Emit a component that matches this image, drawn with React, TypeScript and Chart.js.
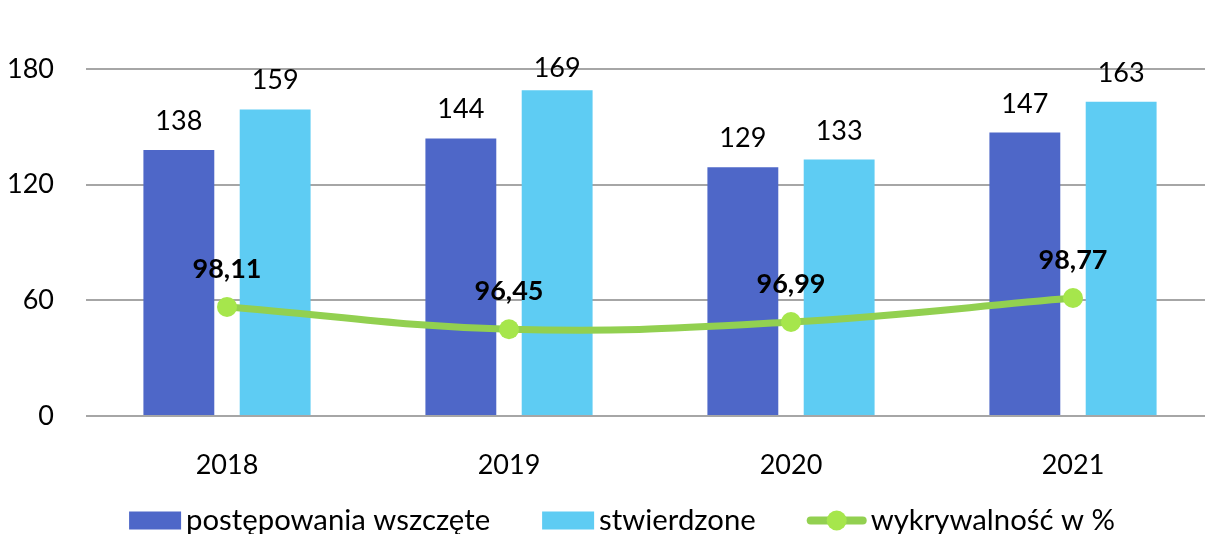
import React, { useEffect, useRef } from "react";
import { Chart, registerables } from "chart.js";

Chart.register(...registerables);

const years = ["2018", "2019", "2020", "2021"];
const postepowania = [138, 144, 129, 147];
const stwierdzone = [159, 169, 133, 163];
const wykrywalnosc = [98.11, 96.45, 96.99, 98.77];
const yTicks = [0, 60, 120, 180];
const seriesNames = ["postępowania wszczęte", "stwierdzone", "wykrywalność w %"];

const FONT = "Lato, 'Open Sans', sans-serif";
const FS = 27;
const LEGEND_FS = 29.3;
const DARK = "#4E67C8";
const LIGHT = "#5ECCF3";
const LINE = "#92D050";
const POINT = "#A6E64C";
const GRID = "#A6A6A6";

const valueLabels = {
  id: "valueLabels",
  afterDatasetsDraw(chart: any) {
    const ctx = chart.ctx;
    ctx.save();
    ctx.fillStyle = "#000";
    ctx.textAlign = "center";
    ctx.textBaseline = "alphabetic";
    chart.data.datasets.forEach((ds: any, di: number) => {
      const meta = chart.getDatasetMeta(di);
      meta.data.forEach((el: any, i: number) => {
        const v = ds.data[i];
        if (ds.type === "line") {
          ctx.font = `bold ${FS}px ${FONT}`;
          ctx.fillText(v.toFixed(2).replace(".", ","), el.x, el.y - 29);
        } else {
          ctx.font = `${FS}px ${FONT}`;
          const y = Math.max(el.y - 20, chart.chartArea.top + 8);
          ctx.fillText(String(v), el.x, y);
        }
      });
    });
    ctx.restore();
  },
};

const customLegend = {
  id: "customLegend",
  afterDraw(chart: any) {
    const ctx = chart.ctx;
    ctx.save();
    ctx.font = `${LEGEND_FS}px ${FONT}`;
    ctx.textBaseline = "alphabetic";
    ctx.textAlign = "left";
    const cy = 520.5;
    const baseline = 529.5;
    const symW = [52, 52, 58];
    const gapText = 5;
    const gapItem = 52;
    const widths = seriesNames.map((n, i) => symW[i] + gapText + ctx.measureText(n).width);
    const total = widths.reduce((a, b) => a + b, 0) + gapItem * (seriesNames.length - 1);
    let x = 622 - total / 2;
    seriesNames.forEach((name, i) => {
      if (i < 2) {
        ctx.fillStyle = i === 0 ? DARK : LIGHT;
        ctx.fillRect(x, cy - 9, symW[i], 18);
      } else {
        ctx.strokeStyle = LINE;
        ctx.lineWidth = 8;
        ctx.lineCap = "round";
        ctx.beginPath();
        ctx.moveTo(x + 3, cy);
        ctx.lineTo(x + symW[i] - 3, cy);
        ctx.stroke();
        ctx.fillStyle = POINT;
        ctx.beginPath();
        ctx.arc(x + symW[i] / 2, cy, 10, 0, Math.PI * 2);
        ctx.fill();
      }
      ctx.fillStyle = "#000";
      ctx.fillText(name, x + symW[i] + gapText, baseline);
      x += widths[i] + gapItem;
    });
    ctx.restore();
  },
};

export default function App() {
  const ref = useRef<HTMLCanvasElement | null>(null);
  useEffect(() => {
    document.body.style.margin = "0";
    document.body.style.overflow = "hidden";
    const chart = new Chart(ref.current as HTMLCanvasElement, {
      type: "bar",
      data: {
        labels: years,
        datasets: [
          {
            type: "line",
            label: seriesNames[2],
            data: wykrywalnosc,
            yAxisID: "y1",
            borderColor: LINE,
            borderWidth: 7,
            tension: 0.4,
            pointRadius: 10,
            pointBackgroundColor: POINT,
            pointBorderColor: POINT,
            pointBorderWidth: 0,
            order: 0,
          } as any,
          {
            type: "bar",
            label: seriesNames[0],
            data: postepowania,
            backgroundColor: DARK,
            categoryPercentage: 0.683,
            barPercentage: 0.736,
            order: 1,
          },
          {
            type: "bar",
            label: seriesNames[1],
            data: stwierdzone,
            backgroundColor: LIGHT,
            categoryPercentage: 0.683,
            barPercentage: 0.736,
            order: 1,
          },
        ],
      },
      options: {
        animation: false,
        responsive: true,
        maintainAspectRatio: false,
        layout: { padding: { top: 69, right: 4, bottom: 0, left: 0 } },
        plugins: { legend: { display: false }, tooltip: { enabled: false } },
        scales: {
          x: {
            grid: { display: false },
            border: { display: false },
            ticks: { color: "#000", font: { family: FONT, size: FS }, padding: 25 },
            afterFit: (s: any) => {
              s.height = 118;
            },
          },
          y: {
            min: 0,
            max: 180,
            afterBuildTicks: (s: any) => {
              s.ticks = yTicks.map((v) => ({ value: v }));
            },
            grid: { color: GRID, lineWidth: 2, drawTicks: false },
            border: { display: false },
            ticks: { color: "#000", font: { family: FONT, size: FS }, padding: 32 },
            afterFit: (s: any) => {
              s.width = 86;
            },
          },
          y1: {
            display: false,
            min: 90,
            max: 115.8,
          },
        },
      },
      plugins: [valueLabels, customLegend],
    });
    return () => chart.destroy();
  }, []);
  return (
    <div style={{ position: "fixed", left: 0, top: 0, width: 1205, height: 534, overflow: "hidden", background: "#fff" }}>
      <div style={{ position: "relative", width: 1224, height: 534 }}>
        <canvas ref={ref} />
      </div>
    </div>
  );
}
